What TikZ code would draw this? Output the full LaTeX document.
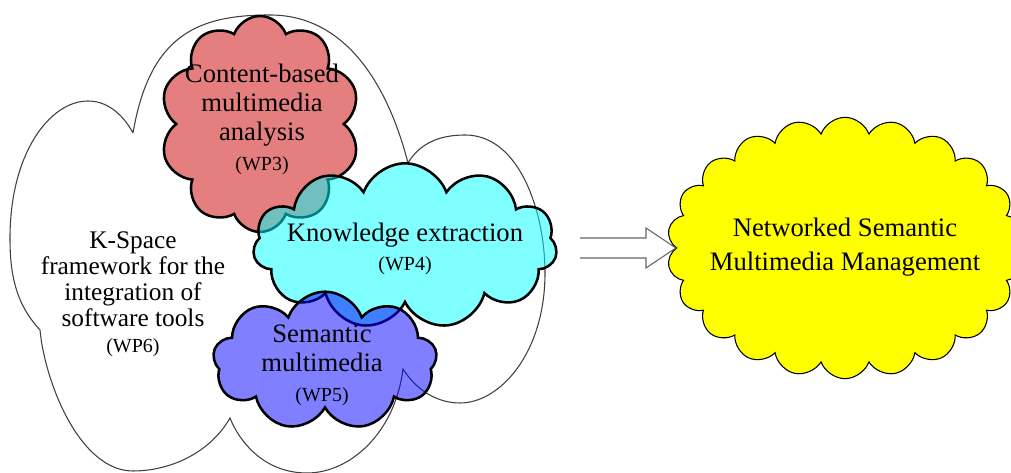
\documentclass[tikz,border=0pt]{standalone}
\usepackage{fontspec}
\setmainfont{Liberation Serif}
\usetikzlibrary{shapes.symbols,calc}

\definecolor{wpred}{RGB}{204,0,0}
\definecolor{wpcyan}{RGB}{0,255,255}
\definecolor{wpblue}{RGB}{0,0,255}
\definecolor{nsmmyellow}{RGB}{255,255,0}

\newcommand{\wpsize}{\fontsize{15}{17}\selectfont}

\begin{document}
\begin{tikzpicture}[x=0.75pt, y=0.75pt,
    puff/.style={cloud, cloud ignores aspect, cloud puff arc=140, draw=black,
      line width=1.9pt, fill opacity=0.5, inner sep=0pt},
    big/.style={align=center, font=\fontsize{20}{22}\selectfont},
    arrowline/.style={draw=black!60, line width=0.8pt}]
\useasboundingbox (0,0) rectangle (1011,473);

% WP6 framework cloud
\draw[black!75, line width=0.8pt] (133,340)
  .. controls (150,440) and (200,458) .. (270,458)
  .. controls (350,458) and (390,380) .. (408,310)
  .. controls (420,330) and (440,338) .. (465,338)
  .. controls (520,338) and (545,260) .. (545,200)
  .. controls (545,120) and (500,70) .. (460,70)
  .. controls (435,70) and (415,85) .. (403,104)
  .. controls (395,40) and (350,0) .. (307,0)
  .. controls (265,0) and (240,30) .. (230,55)
  .. controls (210,20) and (170,2) .. (133,2)
  .. controls (80,2) and (45,90) .. (40,143)
  .. controls (15,170) and (10,200) .. (10,235)
  .. controls (10,320) and (50,372) .. (88,372)
  .. controls (110,372) and (125,355) .. (133,340);
\node[align=center, font=\fontsize{19}{19.5}\selectfont] (wpsix) at (133,179)
  {K-Space\\framework for the\\integration of\\software tools\\{\wpsize(WP6)}};

% work packages
\node[puff, fill=wpred, cloud puffs=10, minimum width=150pt, minimum height=162pt] (wpthree) at (260,349) {};
\node[big] (wpthree-txt) at (262,354) {Content-based\\multimedia\\analysis\\{\wpsize(WP3)}};

\node[puff, fill=wpcyan, cloud puffs=11, minimum width=228pt, minimum height=124pt] (wpfour) at (405,227) {};
\node[big] (wpfour-txt) at (405,224) {Knowledge extraction\\{\wpsize(WP4)}};

\node[puff, fill=wpblue, cloud puffs=9, minimum width=168pt, minimum height=104pt] (wpfive) at (325,112) {};
\node[big] (wpfive-txt) at (322,108) {Semantic\\multimedia\\{\wpsize(WP5)}};

% result
\node[cloud, cloud ignores aspect, cloud puffs=22, cloud puff arc=140, draw=black, line width=0.8pt,
  fill=nsmmyellow, inner sep=0pt, minimum width=267pt, minimum height=196pt] (nsmm) at (845,225) {};
\node[align=center, font=\fontsize{20}{26}\selectfont] (nsmm-txt) at (845,226)
  {Networked Semantic\\Multimedia Management};

\coordinate (arrtail) at (580,225);
\draw[arrowline] ($(arrtail)+(0,10)$) -- ($(arrtail)+(66,10)$) -- ($(arrtail)+(66,20)$)
  -- (nsmm.west) -- ($(arrtail)+(66,-20)$) -- ($(arrtail)+(66,-10)$) -- ($(arrtail)+(0,-10)$);
\end{tikzpicture}
\end{document}
